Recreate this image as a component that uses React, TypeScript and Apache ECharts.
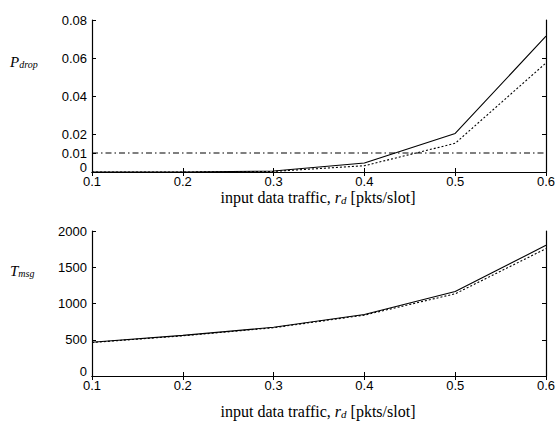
import React, { useEffect, useRef } from "react";
import * as echarts from "echarts";

const traffic = [0.1, 0.2, 0.3, 0.4, 0.5, 0.6];
const pdropSolid = [0, 0, 0.0005, 0.0047, 0.0203, 0.0715];
const pdropDotted = [0, 0, 0.0003, 0.0033, 0.0151, 0.0574];
const pdropThreshold = [0.01, 0.01];
const thresholdX = [0.1, 0.6];
const tmsgSolid = [466, 560, 672, 848, 1166, 1802];
const tmsgDotted = [462, 554, 666, 840, 1134, 1757];
const xTicks = [0.1, 0.2, 0.3, 0.4, 0.5, 0.6];
const pdropTicks = [0, 0.01, 0.02, 0.04, 0.06, 0.08];
const pdropRightTicks = [0.02, 0.04, 0.06];
const tmsgTicks = [0, 500, 1000, 1500, 2000];
const tmsgRightTicks = [500, 1000, 1500];

const pairs = (xs: number[], ys: number[]) => xs.map((x, i) => [x, ys[i]]);

const SANS = "Liberation Sans";
const SERIF = "Liberation Serif";
const TICK_FS = 13;

function xAxes(gridIndex: number) {
  return [
    {
      type: "value",
      gridIndex,
      min: 0.1,
      max: 0.6,
      position: "bottom",
      splitLine: { show: false },
      axisLine: { show: true, lineStyle: { color: "#000", width: 1.2 } },
      axisTick: { inside: true, length: 4, customValues: xTicks, lineStyle: { color: "#000" } },
      axisLabel: {
        customValues: xTicks,
        formatter: (v: number) => v.toFixed(1),
        color: "#000",
        fontFamily: SANS,
        fontSize: TICK_FS,
        lineHeight: 13,
        margin: 3,
      },
    },
    {
      type: "value",
      gridIndex,
      min: 0.1,
      max: 0.6,
      position: "top",
      splitLine: { show: false },
      axisLine: { show: true, lineStyle: { color: "#000", width: 1.2 } },
      axisTick: { inside: true, length: 4, customValues: xTicks, lineStyle: { color: "#000" } },
      axisLabel: { show: false },
    },
  ];
}

function yAxes(gridIndex: number, max: number, ticks: number[], rightTicks: number[], fmt: (v: number) => string) {
  return [
    {
      type: "value",
      gridIndex,
      min: 0,
      max,
      position: "left",
      splitLine: { show: false },
      axisLine: { show: true, lineStyle: { color: "#000", width: 1.2 } },
      axisTick: { inside: true, length: 4, customValues: ticks, lineStyle: { color: "#000" } },
      axisLabel: {
        customValues: ticks,
        formatter: (v: number) => (v === 0 ? "{z|0}" : fmt(v)),
        color: "#000",
        fontFamily: SANS,
        fontSize: TICK_FS,
        lineHeight: 11,
        margin: 5,
        rich: { z: { fontFamily: SANS, fontSize: TICK_FS, lineHeight: 11, color: "#000", padding: [0, 0, 10, 0] } },
      },
    },
    {
      type: "value",
      gridIndex,
      min: 0,
      max,
      position: "right",
      splitLine: { show: false },
      axisLine: { show: true, lineStyle: { color: "#000", width: 1.2 } },
      axisTick: { inside: true, length: 4, customValues: rightTicks, lineStyle: { color: "#000" } },
      axisLabel: { show: false },
    },
  ];
}

const lineBase = { type: "line", showSymbol: false, symbol: "none", silent: true };

export default function App() {
  const ref = useRef<HTMLDivElement>(null);
  useEffect(() => {
    if (!ref.current) return;
    const chart = echarts.init(ref.current, undefined, { renderer: "svg" });
    const titleRich = {
      n: { fontFamily: SERIF, fontSize: 16, color: "#000" },
      i: { fontFamily: SERIF, fontSize: 16, fontStyle: "italic", color: "#000" },
      s: { fontFamily: SERIF, fontSize: 11, fontStyle: "italic", color: "#000", padding: [6, 0, 0, 0] },
    };
    const ylabRich = {
      a: { fontFamily: SERIF, fontSize: 15, fontStyle: "italic", color: "#000" },
      b: { fontFamily: SERIF, fontSize: 10, fontStyle: "italic", color: "#000", padding: [6, 0, 0, 0] },
    };
    chart.setOption({
      animation: false,
      backgroundColor: "#fff",
      grid: [
        { left: 92, top: 20, width: 454, height: 152 },
        { left: 92, top: 231, width: 454, height: 145 },
      ],
      xAxis: [...xAxes(0), ...xAxes(1)],
      yAxis: [
        ...yAxes(0, 0.08, pdropTicks, pdropRightTicks, (v) => v.toFixed(2)),
        ...yAxes(1, 2000, tmsgTicks, tmsgRightTicks, (v) => String(v)),
      ],
      series: [
        { ...lineBase, xAxisIndex: 0, yAxisIndex: 0, data: pairs(traffic, pdropSolid), lineStyle: { color: "#000", width: 1.1, type: "solid" } },
        { ...lineBase, xAxisIndex: 0, yAxisIndex: 0, data: pairs(traffic, pdropDotted), lineStyle: { color: "#000", width: 1.1, type: [2, 2] } },
        { ...lineBase, xAxisIndex: 0, yAxisIndex: 0, data: pairs(thresholdX, pdropThreshold), lineStyle: { color: "#000", width: 1.1, type: [6, 3, 1.5, 3] } },
        { ...lineBase, xAxisIndex: 2, yAxisIndex: 2, data: pairs(traffic, tmsgSolid), lineStyle: { color: "#000", width: 1.1, type: "solid" } },
        { ...lineBase, xAxisIndex: 2, yAxisIndex: 2, data: pairs(traffic, tmsgDotted), lineStyle: { color: "#000", width: 1.1, type: [2, 2] } },
      ],
      graphic: [
        {
          type: "text",
          left: 10,
          top: 54,
          style: { text: "{a|P}{b|drop}", rich: ylabRich },
        },
        {
          type: "text",
          left: 10,
          top: 263,
          style: { text: "{a|T}{b|msg}", rich: ylabRich },
        },
        {
          type: "text",
          x: 318,
          y: 197,
          style: { text: "{n|input data traffic, }{i|r}{s|d}{n| [pkts/slot]}", rich: titleRich, align: "center", verticalAlign: "middle" },
        },
        {
          type: "text",
          x: 318,
          y: 411,
          style: { text: "{n|input data traffic, }{i|r}{s|d}{n| [pkts/slot]}", rich: titleRich, align: "center", verticalAlign: "middle" },
        },
      ],
    });
    return () => chart.dispose();
  }, []);
  return <div ref={ref} style={{ position: "fixed", left: 0, top: 0, width: 559, height: 431 }} />;
}
